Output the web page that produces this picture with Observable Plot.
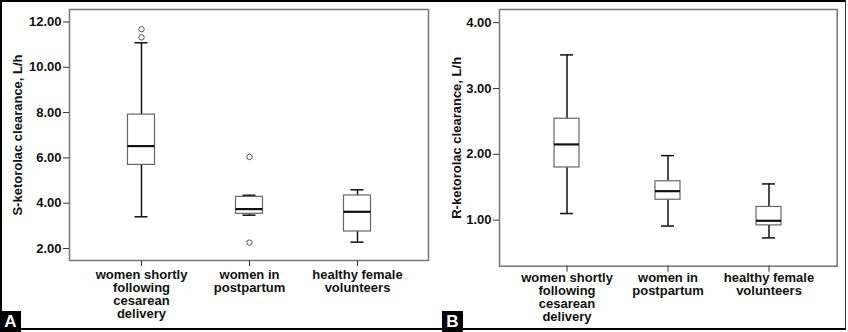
<!DOCTYPE html>
<html>
<head>
<meta charset="utf-8">
<script src="https://cdn.jsdelivr.net/npm/d3@7"></script>
<script src="https://cdn.jsdelivr.net/npm/@observablehq/plot@0.6"></script>
<style>
  html, body { margin: 0; padding: 0; background: #fff; }
  #wrap { position: relative; width: 848px; height: 332px; overflow: hidden; font-family: "Liberation Sans", Arial, sans-serif; }
  #border { position: absolute; left: 0; top: 0; width: 846px; height: 330px; border: 2px solid #000; border-right: 1.5px solid #333; box-sizing: border-box; }
  .panel { position: absolute; top: 0; }
  .panel svg text { font-weight: 700; font-family: "Liberation Sans", Arial, sans-serif; fill: #111; }
  .tag { position: absolute; top: 311px; width: 21px; height: 21px; background: #000; color: #fff; font: bold 17px "Liberation Sans", Arial, sans-serif; line-height: 22px; text-align: center; }
</style>
</head>
<body>
<div id="wrap">
  <div id="border"></div>
  <div id="pA" class="panel" style="left:0px"></div>
  <div id="pB" class="panel" style="left:430px"></div>
  <div class="tag" style="left:0px">A</div>
  <div class="tag" style="left:442px">B</div>
</div>
<script>
// ---- data ----
const categories = ["women shortly following cesarean delivery", "women in postpartum", "healthy female volunteers"];
const categoryLabels = ["women shortly\nfollowing\ncesarean\ndelivery", "women in\npostpartum", "healthy female\nvolunteers"];

// Panel A: S-ketorolac clearance, L/h
const sLow    = [3.40, 3.47, 2.28];
const sQ1     = [5.69, 3.53, 2.75];
const sMedian = [6.52, 3.74, 3.62];
const sQ3     = [7.91, 4.28, 4.34];
const sHigh   = [11.08, 4.35, 4.59];
const sOutlierGroup = [0, 0, 1, 1];
const sOutlierValue = [11.68, 11.32, 6.04, 2.26];
const sTicks = [2, 4, 6, 8, 10, 12];

// Panel B: R-ketorolac clearance, L/h
const rLow    = [1.10, 0.91, 0.73];
const rQ1     = [1.80, 1.31, 0.92];
const rMedian = [2.15, 1.44, 0.99];
const rQ3     = [2.54, 1.59, 1.20];
const rHigh   = [3.51, 1.98, 1.55];
const rOutlierGroup = [];
const rOutlierValue = [];
const rTicks = [1, 2, 3, 4];

function boxPanel(opts) {
  const {low, q1, median, q3, high, outG, outV, ticks, yDomain, label, width, margins, po, boxInset, capInset, labelOffset, tickPadX} = opts;
  const rows = categories.map((c, i) => ({cat: c, low: low[i], q1: q1[i], median: median[i], q3: q3[i], high: high[i]}));
  const outs = outG.map((g, i) => ({cat: categories[g], v: outV[i]}));
  const labelMap = new Map(categories.map((c, i) => [c, categoryLabels[i]]));
  return Plot.plot({
    width, height: 332,
    marginLeft: margins[0], marginRight: margins[1], marginTop: margins[2], marginBottom: margins[3],
    style: {fontFamily: "Liberation Sans, Arial, sans-serif", fontSize: "13px", fontWeight: "bold", color: "#111", background: "transparent"},
    x: {type: "band", domain: categories, paddingInner: 0, paddingOuter: po, axis: null},
    y: {domain: yDomain, axis: null},
    marks: [
      Plot.frame({stroke: "#777", strokeWidth: 1.5}),
      Plot.axisY({ticks, tickFormat: d3.format(".2f"), tickSize: 6, tickPadding: 2, label, labelAnchor: "center", labelArrow: "none", labelOffset, stroke: "#333"}),
      Plot.axisX({tickFormat: d => labelMap.get(d), tickSize: 6, tickPadding: tickPadX, label: null, lineHeight: 1, stroke: "#333"}),
      Plot.ruleX(rows, {x: "cat", y1: "q3", y2: "high", stroke: "#111", strokeWidth: 1.5}),
      Plot.ruleX(rows, {x: "cat", y1: "low", y2: "q1", stroke: "#111", strokeWidth: 1.5}),
      Plot.tickY(rows, {x: "cat", y: "high", insetLeft: capInset, insetRight: capInset, stroke: "#111", strokeWidth: 1.5}),
      Plot.tickY(rows, {x: "cat", y: "low", insetLeft: capInset, insetRight: capInset, stroke: "#111", strokeWidth: 1.5}),
      Plot.barY(rows, {x: "cat", y1: "q1", y2: "q3", insetLeft: boxInset, insetRight: boxInset, fill: "#fff", stroke: "#666", strokeWidth: 1.2}),
      Plot.tickY(rows, {x: "cat", y: "median", insetLeft: boxInset, insetRight: boxInset, stroke: "#111", strokeWidth: 2.2}),
      Plot.dot(outs, {x: "cat", y: "v", r: 2.7, stroke: "#555", fill: "#fff", strokeWidth: 1})
    ]
  });
}

document.getElementById("pA").append(boxPanel({
  low: sLow, q1: sQ1, median: sMedian, q3: sQ3, high: sHigh, outG: sOutlierGroup, outV: sOutlierValue,
  ticks: sTicks, yDomain: [1.47, 12.55], label: "S-ketorolac clearance, L/h",
  width: 430, margins: [69, 2, 9, 72], po: 0.162, boxInset: 40.5, capInset: 47.5, labelOffset: 57, tickPadX: 3
}));

document.getElementById("pB").append(boxPanel({
  low: rLow, q1: rQ1, median: rMedian, q3: rQ3, high: rHigh, outG: rOutlierGroup, outV: rOutlierValue,
  ticks: rTicks, yDomain: [0.30, 4.20], label: "R-ketorolac clearance, L/h",
  width: 418, margins: [69, 11.3, 9, 66.3], po: 0.167, boxInset: 38, capInset: 44, labelOffset: 48, tickPadX: 1
}));
</script>
</body>
</html>
